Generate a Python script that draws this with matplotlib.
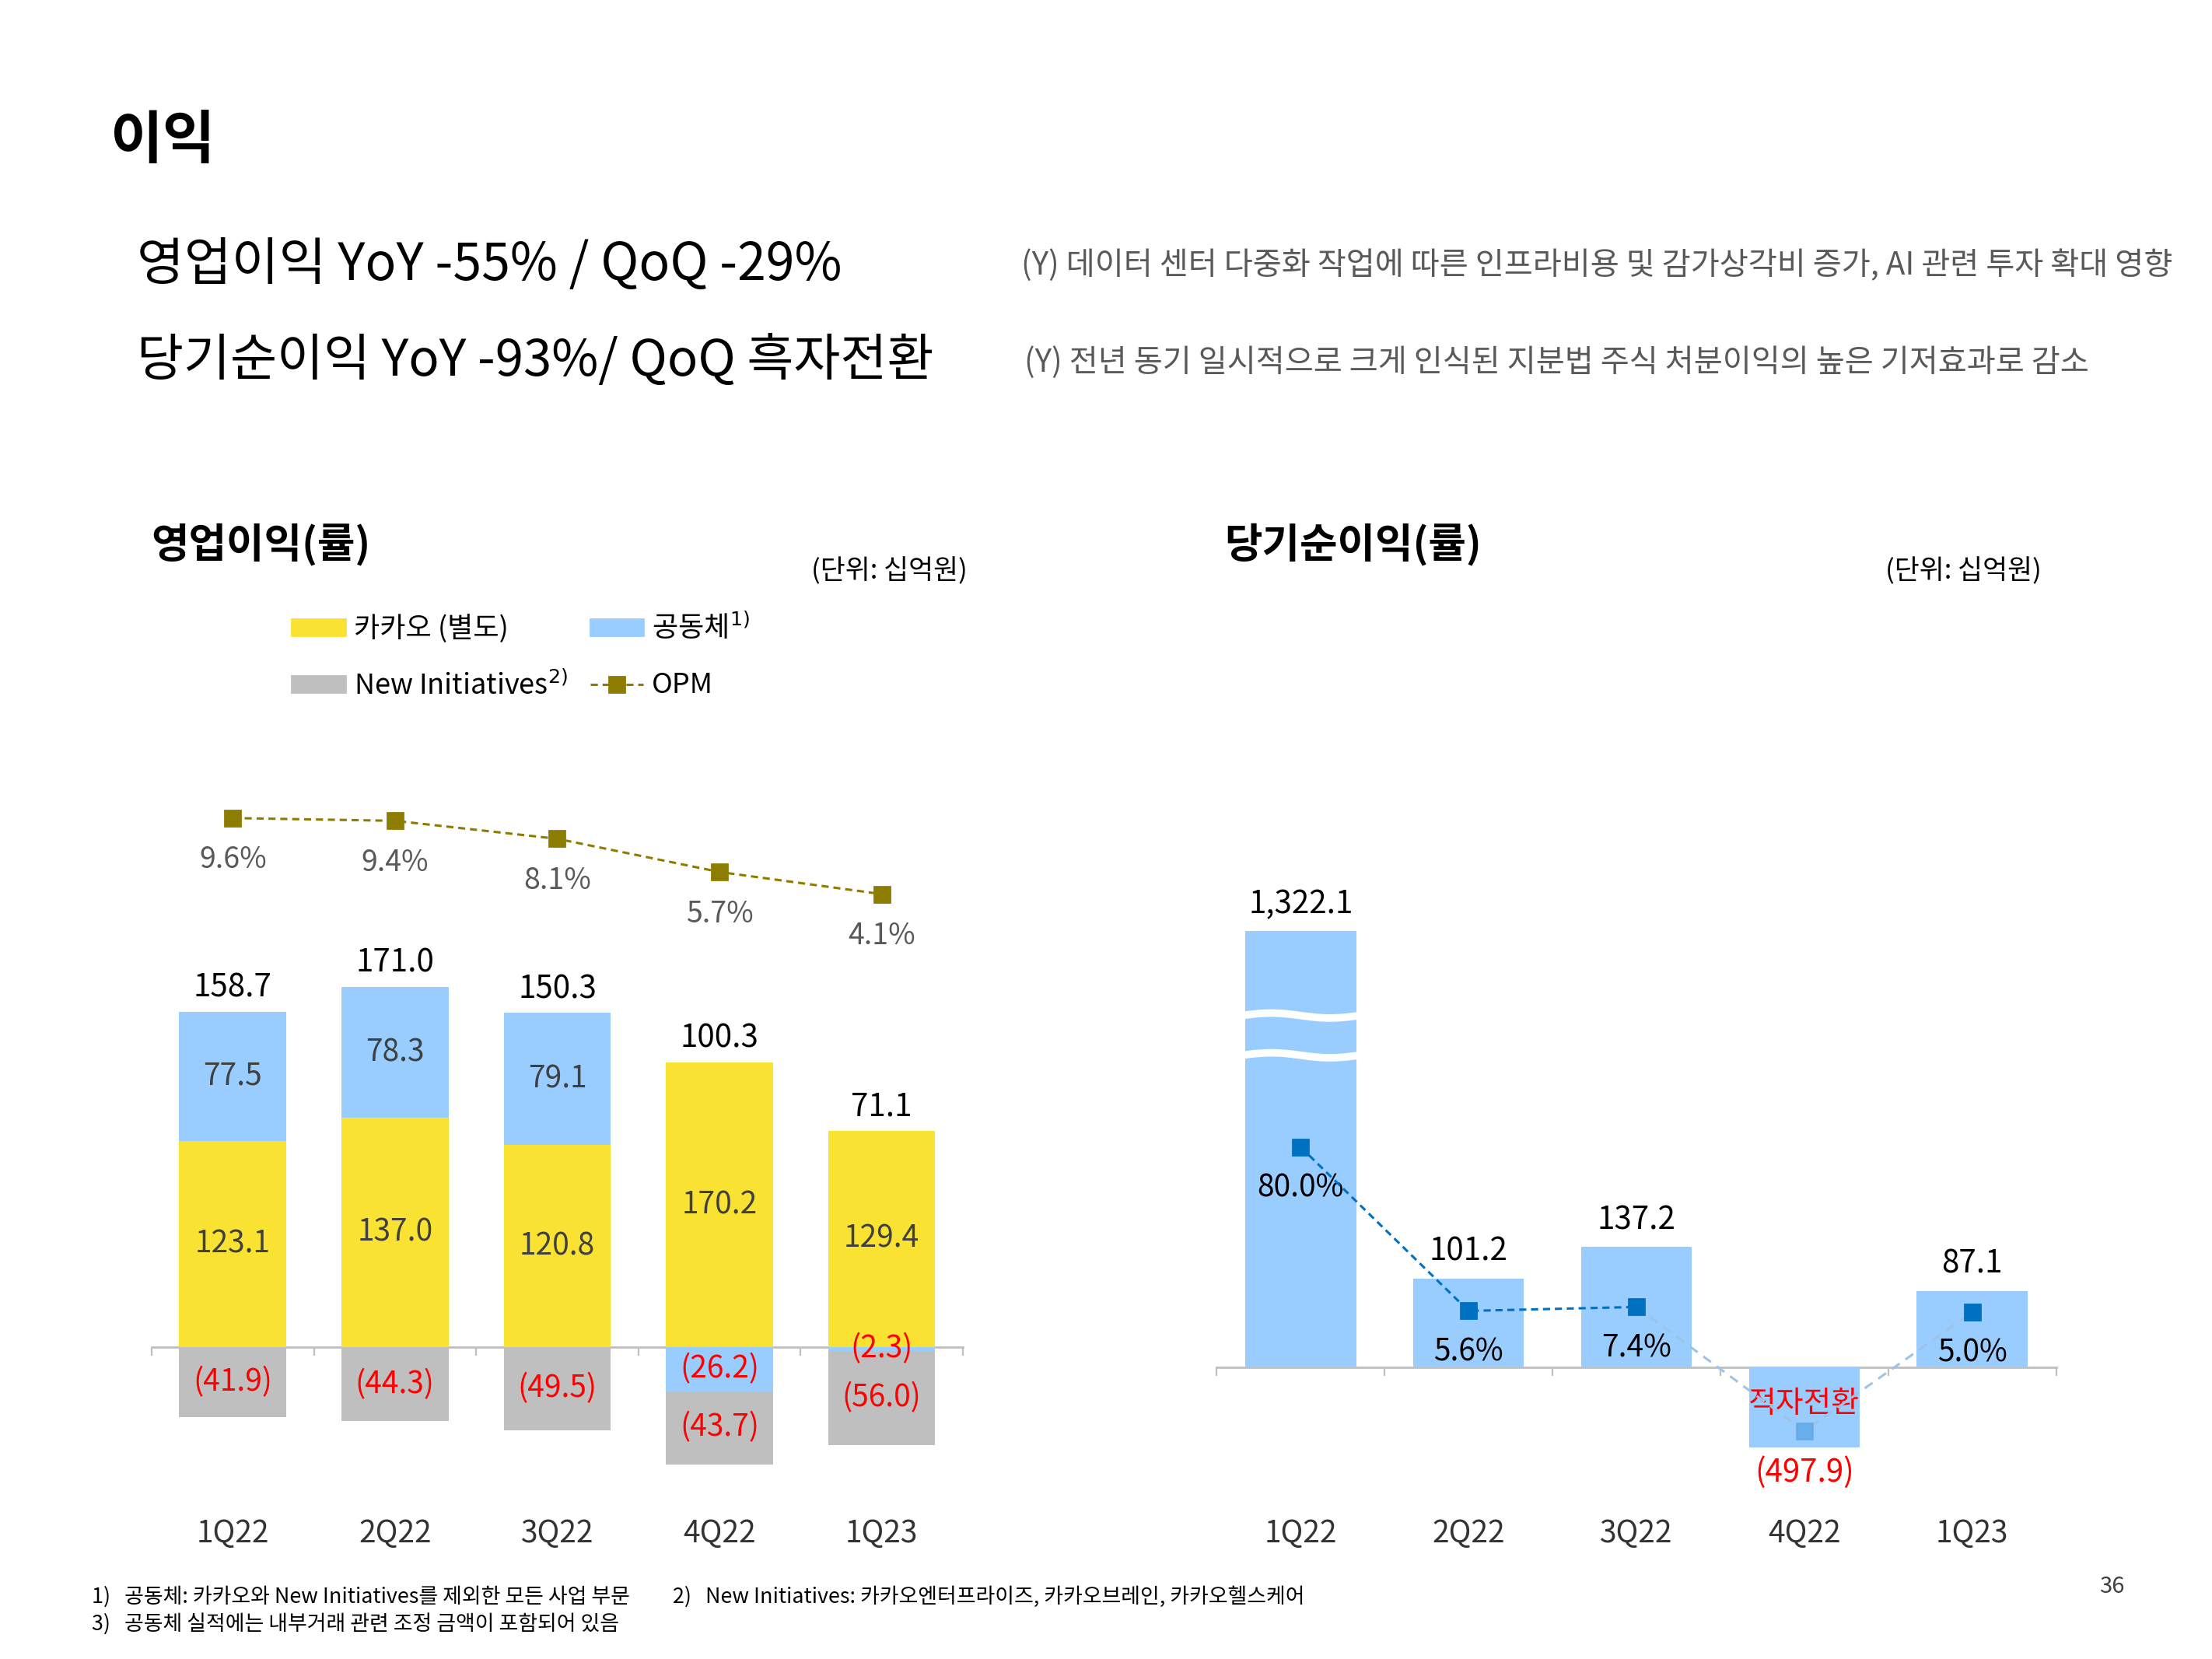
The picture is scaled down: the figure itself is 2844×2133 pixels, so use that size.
import numpy as np
import matplotlib
matplotlib.use('Agg')
import matplotlib.pyplot as plt
from matplotlib.patches import Patch
from matplotlib.lines import Line2D
from matplotlib.transforms import blended_transform_factory

plt.rcParams['font.family'] = ['Noto Sans CJK KR', 'DejaVu Sans']
plt.rcParams['axes.unicode_minus'] = False

# 데이터
quarters = ['1Q22', '2Q22', '3Q22', '4Q22', '1Q23']
kakao = [123.1, 137.0, 120.8, 170.2, 129.4]          # 카카오 (별도)
affil = [77.5, 78.3, 79.1, -26.2, -2.3]              # 공동체
new_init = [-41.9, -44.3, -49.5, -43.7, -56.0]       # New Initiatives
op_total = [158.7, 171.0, 150.3, 100.3, 71.1]
opm = [9.6, 9.4, 8.1, 5.7, 4.1]

net_income = [1322.1, 101.2, 137.2, -497.9, 87.1]
net_margin = [80.0, 5.6, 7.4, -49.0, 5.0]
net_margin_labels = ['80.0%', '5.6%', '7.4%', '적자전환', '5.0%']

YELLOW = '#F9E231'
BLUE = '#99CCFF'
GRAY = '#BFBFBF'
OLIVE = '#8C7C00'
DBLUE = '#0070C0'
RED = '#FF0000'
TXT = '#404040'

W, H = 1568, 1176   # 축소 좌표 기준
def fx(x): return x / W
def fy(y): return 1 - y / H

fig = plt.figure(figsize=(14.22, 10.665), dpi=200)

# 제목 / 헤드라인
fig.text(fx(78), fy(100), '이익', fontsize=26.5, fontweight='bold', va='center')
fig.text(fx(97), fy(188), '영업이익 YoY -55% / QoQ -29%', fontsize=23.8, fontweight='light', va='center')
fig.text(fx(97), fy(256), '당기순이익 YoY -93%/ QoQ 흑자전환', fontsize=23.5, fontweight='light', va='center')
fig.text(fx(724), fy(188), '(Y) 데이터 센터 다중화 작업에 따른 인프라비용 및 감가상각비 증가, AI 관련 투자 확대 영향',
         fontsize=14.5, color='#595959', va='center', fontweight='light')
fig.text(fx(726), fy(257), '(Y) 전년 동기 일시적으로 크게 인식된 지분법 주식 처분이익의 높은 기저효과로 감소',
         fontsize=14.5, color='#595959', va='center', fontweight='light')

fig.text(fx(107), fy(386), '영업이익(률)', fontsize=19, fontweight='bold', va='center')
fig.text(fx(686), fy(405), '(단위: 십억원)', fontsize=12.5, va='center', ha='right')
fig.text(fx(868), fy(386), '당기순이익(률)', fontsize=19, fontweight='bold', va='center')
fig.text(fx(1447), fy(405), '(단위: 십억원)', fontsize=12.5, va='center', ha='right')

x = np.arange(len(quarters))
bw = 0.66

# ---------------- 영업이익 ----------------
ax1 = fig.add_axes([fx(107.5), fy(1060), 575 / W, 515 / H])
kakao_a = np.array(kakao)
affil_a = np.array(affil)
ni_a = np.array(new_init)
pos_bottom = np.where(kakao_a > 0, kakao_a, 0)
affil_bottom = np.where(affil_a > 0, pos_bottom, 0)
neg_bottom = np.where(affil_a < 0, affil_a, 0)

ax1.bar(x, kakao_a, bw, color=YELLOW, zorder=3)
ax1.bar(x, affil_a, bw, bottom=affil_bottom, color=BLUE, zorder=3)
ax1.bar(x, ni_a, bw, bottom=neg_bottom, color=GRAY, zorder=3)

for i in range(len(x)):
    ax1.text(x[i], kakao_a[i] / 2, f'{kakao_a[i]:.1f}', ha='center', va='center', fontsize=14, color=TXT, zorder=5)
    yc = affil_bottom[i] + affil_a[i] / 2
    if affil_a[i] > 0:
        ax1.text(x[i], yc, f'{affil_a[i]:.1f}', ha='center', va='center', fontsize=14, color=TXT, zorder=5)
    else:
        ax1.text(x[i], yc, f'({-affil_a[i]:.1f})', ha='center', va='center', fontsize=14, color=RED, zorder=5)
    ax1.text(x[i], neg_bottom[i] + ni_a[i] / 2, f'({-ni_a[i]:.1f})', ha='center', va='center',
             fontsize=14, color=RED, zorder=5)
    top = pos_bottom[i] + max(affil_a[i], 0)
    ax1.annotate(f'{op_total[i]:.1f}', (x[i], top), xytext=(0, 11), textcoords='offset points',
                 ha='center', va='center', fontsize=14.5, color='black')

ax1.set_xlim(-0.5, 4.5)
ax1.set_ylim(-88.53, 345.70)

ax1t = ax1.twinx()
ax1t.plot(x, opm, linestyle=(0, (3, 2)), color=OLIVE, lw=1.1, marker='s', ms=7, zorder=4)
for i in range(len(x)):
    ax1t.annotate(f'{opm[i]:.1f}%', (x[i], opm[i]), xytext=(0, -19.5), textcoords='offset points',
                  ha='center', va='center', fontsize=13.5, color='#595959')
ax1t.set_ylim(-39.39, 13.16)

# ---------------- 당기순이익 (축 생략 스케일) ----------------
BRK, K_POS, K_NEG = 140.0, 0.3032, 0.18465

def fwd(v):
    v = np.asarray(v, dtype=float)
    return np.where(v < 0, v * K_NEG, np.where(v <= BRK, v, BRK + (v - BRK) * K_POS))

def inv(s):
    s = np.asarray(s, dtype=float)
    return np.where(s < 0, s / K_NEG, np.where(s <= BRK, s, BRK + (s - BRK) / K_POS))

ax2 = fig.add_axes([fx(862.5), fy(1060), 595 / W, 440 / H])
ax2.set_yscale('function', functions=(fwd, inv))
ni = np.array(net_income)
ax2.bar(x, ni, bw, color=BLUE, zorder=3)
ax2.set_xlim(-0.5, 4.5)
ax2.set_ylim(float(inv((969 - 1060) / 0.62)), float(inv((969 - 620) / 0.62)))
for i in range(len(x)):
    if ni[i] >= 0:
        ax2.annotate(f'{ni[i]:,.1f}', (x[i], ni[i]), xytext=(0, 12.5), textcoords='offset points',
                     ha='center', va='center', fontsize=14.5, color='black')
    else:
        ax2.annotate(f'({-ni[i]:,.1f})', (x[i], ni[i]), xytext=(0, -11.5), textcoords='offset points',
                     ha='center', va='center', fontsize=14.5, color=RED)

# 1Q22 막대 생략 표시
bt = blended_transform_factory(ax2.transData, ax2.transAxes)
wx = np.linspace(-bw / 2 - 0.02, bw / 2 + 0.02, 30)
for ya in (0.773, 0.709):
    ax2.plot(wx, ya + 0.004 * np.sin((wx + 0.35) / 0.7 * np.pi * 2), color='white', lw=3.5,
             transform=bt, zorder=4, solid_capstyle='butt')

ax2t = ax2.twinx()
ax2t.set_ylim(-78.2, 203.8)
nm = np.array(net_margin)
ax2t.plot(x[:3], nm[:3], linestyle=(0, (3, 2)), color=DBLUE, lw=1.1, zorder=4)
ax2t.plot(x[2:], nm[2:], linestyle=(0, (4, 3)), color='#9DC3E6', lw=1.1, zorder=4)
ax2t.plot(x[[0, 1, 2, 4]], nm[[0, 1, 2, 4]], 's', color=DBLUE, ms=7.5, zorder=5)
ax2t.plot(x[3], nm[3], 's', color='#5FA8E8', ms=7.5, zorder=5, alpha=0.8)
for i in range(len(x)):
    if nm[i] >= 0:
        ax2t.annotate(net_margin_labels[i], (x[i], nm[i]), xytext=(0, -19), textcoords='offset points',
                      ha='center', va='center', fontsize=14, color='black')
    else:
        ax2t.annotate(net_margin_labels[i], (x[i], nm[i]), xytext=(0, 12.5), textcoords='offset points',
                      ha='center', va='center', fontsize=14, color=RED, fontweight='medium')

# 축 스타일
for ax in (ax1, ax2):
    for s in ('top', 'left', 'right'):
        ax.spines[s].set_visible(False)
    ax.spines['bottom'].set_position(('data', 0))
    ax.spines['bottom'].set_color(GRAY)
    ax.spines['bottom'].set_linewidth(1.0)
    ax.spines['bottom'].set_zorder(2)
    ax.set_xticks(np.arange(-0.5, 5, 1))
    ax.tick_params(axis='x', length=4, color=GRAY, direction='out', labelbottom=False)
    ax.set_yticks([])
    ax.set_yticks([], minor=True)
    ax.patch.set_visible(False)
    tb = blended_transform_factory(ax.transData, fig.transFigure)
    for i, q in enumerate(quarters):
        ax.text(x[i], fy(1087), q, transform=tb, ha='center', va='center', fontsize=14, color='#333333')
for ax in (ax1t, ax2t):
    ax.axis('off')

# 범례
handles = [Patch(color=YELLOW), Patch(color=GRAY), Patch(color=BLUE),
           Line2D([], [], linestyle=(0, (3, 2)), color=OLIVE, lw=1.1, marker='s', ms=7)]
labels = ['카카오 (별도)', 'New Initiatives$^{2)}$', '공동체$^{1)}$', 'OPM']
fig.legend(handles, labels, ncol=2, loc='upper left', bbox_to_anchor=(fx(207), fy(434)),
           frameon=False, fontsize=13, handlelength=1.9, handleheight=0.5, handletextpad=0.3,
           columnspacing=0.8, labelspacing=1.0, borderpad=0, borderaxespad=0)

# 각주
fig.text(fx(65), fy(1132), '1)   공동체: 카카오와 New Initiatives를 제외한 모든 사업 부문', fontsize=9.7, va='center')
fig.text(fx(477), fy(1132), '2)   New Initiatives: 카카오엔터프라이즈, 카카오브레인, 카카오헬스케어', fontsize=9.7, va='center')
fig.text(fx(65), fy(1151), '3)   공동체 실적에는 내부거래 관련 조정 금액이 포함되어 있음', fontsize=9.7, va='center')
fig.text(fx(1506), fy(1125), '36', fontsize=10.5, va='center', ha='right', color='#404040')

fig.savefig('out.png', dpi=200)
